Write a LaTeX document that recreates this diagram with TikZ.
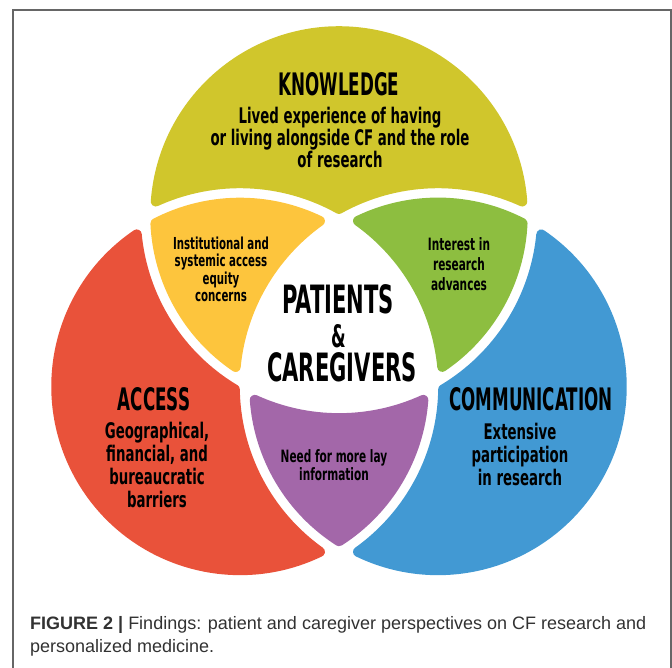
\documentclass[tikz,border=0pt]{standalone}
\usepackage{fontspec}
\setmainfont{Liberation Sans}
\newfontfamily\headfont[FakeStretch=0.54]{DejaVu Sans}
\newfontfamily\bodyfont[FakeStretch=0.62]{DejaVu Sans}
\definecolor{knowfill}{RGB}{208,198,44}
\definecolor{instfill}{RGB}{253,197,61}
\definecolor{intfill}{RGB}{141,190,64}
\definecolor{accfill}{RGB}{233,82,58}
\definecolor{commfill}{RGB}{66,153,211}
\definecolor{layfill}{RGB}{163,103,169}
\definecolor{captext}{RGB}{50,50,50}
\begin{document}
\begin{tikzpicture}[x=1pt,y=-1pt]

                \tikzset{region/.style = {line width=10pt,line join=round}}
                \tikzset{head/.style = {inner sep=0pt,text=black,font=\headfont\bfseries\fontsize{31}{33}\selectfont}}
                \tikzset{desc/.style = {inner sep=0pt,align=center,text=black,font=\bodyfont\bfseries\fontsize{21.5}{23}\selectfont}}
                \tikzset{small/.style = {inner sep=0pt,align=center,text=black,font=\bodyfont\bfseries\fontsize{16.5}{17.5}\selectfont}}
                \tikzset{caption/.style = {inner sep=0pt,align=left,text=captext,font=\fontsize{18}{23.5}\selectfont}}
                \def\Ri{183.75}
                \def\Ro{203.25}
                \useasboundingbox (0,0) rectangle (672,668);
                \draw[gray!80!black,line width=1.2pt] (13,668) -- (13,10) -- (671,10) -- (671,668);
                % one outer part and one lens, turned round the middle
                \begin{scope}[shift={(339,329.25)},yscale=-1]
                    \foreach \turn/\outer/\lens in {0/knowfill/instfill,120/commfill/intfill,240/accfill/layfill}{
                        \begin{scope}[rotate=\turn]
                            \path[region,fill=\outer,draw=\outer] (-183.23,127.74)
                                arc[start angle=175.8,end angle=4.2,radius=\Ri]
                                arc[start angle=65.5,end angle=119.15,radius=\Ro]
                                arc[start angle=60.85,end angle=114.5,radius=\Ro] -- cycle;
                            \path[region,fill=\lens,draw=\lens] (-183.57,105.94)
                                arc[start angle=117.4,end angle=64.2,radius=\Ri]
                                arc[start angle=125.5,end angle=174.5,radius=\Ro]
                                arc[start angle=235.8,end angle=182.6,radius=\Ri] -- cycle;
                        \end{scope}
                    }
                \end{scope}

                \node[head] (know) at (339,84.5) {KNOWLEDGE};
                \node[desc,font=\bodyfont\bfseries\fontsize{21.5}{22}\selectfont] (lived) at (340,137) {Lived experience of having\\or living alongside CF and the role\\of research};
                \node[head] (acc) at (154,399) {ACCESS};
                \node[desc] (geo) at (157,465) {Geographical,\\financial, and\\bureaucratic\\barriers};
                \node[head] (comm) at (531,399) {COMMUNICATION};
                \node[desc] (ext) at (520,454) {Extensive\\participation\\in research};
                \node[small] (inst) at (221,269.5) {Institutional and\\systemic access\\equity\\concerns};
                \node[small,font=\bodyfont\bfseries\fontsize{17}{20.3}\selectfont] (int) at (459,264) {Interest in\\research\\advances};
                \node[small,font=\bodyfont\bfseries\fontsize{17}{18.5}\selectfont] (lay) at (334,465) {Need for more lay\\information};
                \node[head,font=\headfont\bfseries\fontsize{39}{41}\selectfont] (pat) at (338,299) {PATIENTS};
                \node[head,font=\headfont\bfseries\fontsize{31}{32}\selectfont] (amp) at (338.5,336.5) {\&};
                \node[head,font=\headfont\bfseries\fontsize{39}{41}\selectfont] (care) at (342,367.5) {CAREGIVERS};

                \node[caption,anchor=north west] (cap) at (30,616) {\textbf{FIGURE 2 |} Findings: patient and caregiver perspectives on CF research and\\personalized medicine.};
            \end{tikzpicture}
\end{document}
